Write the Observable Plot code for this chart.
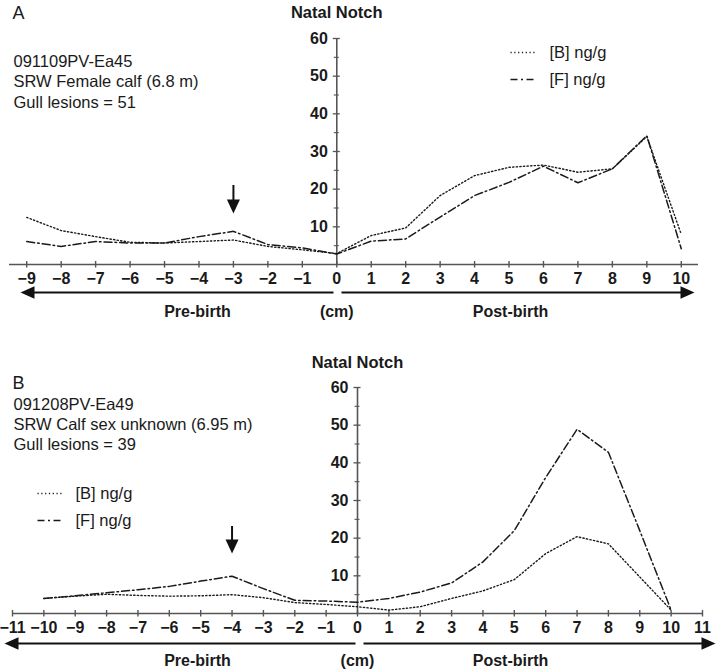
<!DOCTYPE html>
<html><head><meta charset="utf-8">
<script src="https://cdn.jsdelivr.net/npm/d3@7"></script>
<script src="https://cdn.jsdelivr.net/npm/@observablehq/plot@0.6"></script>
<style>
html,body{margin:0;padding:0;background:#fff;}
#fig{width:717px;height:670px;overflow:hidden;}
#fig svg{display:block;}
</style></head><body><div id="fig"></div>
<script>
// ---- data ----
const positionsA = [-9,-8,-7,-6,-5,-4,-3,-2,-1,0,1,2,3,4,5,6,7,8,9,10];
const bluberA   = [12.5,9.0,7.4,5.9,5.7,6.1,6.5,4.8,3.9,2.9,7.7,9.7,18.3,23.6,25.8,26.4,24.5,25.4,34.0,8.0];
const fluberA   = [6.1,4.8,6.1,5.7,5.7,7.4,8.8,5.3,4.4,2.8,6.2,6.8,12.6,18.3,21.8,26.1,21.7,25.4,34.2,4.2];
const xTicksA   = [-9,-8,-7,-6,-5,-4,-3,-2,-1,0,1,2,3,4,5,6,7,8,9,10];

const positionsB = [-10,-9,-8,-7,-6,-5,-4,-3,-2,-1,0,1,2,3,4,5,6,7,8,9,10];
const bluberB    = [4.0,4.6,5.1,4.8,4.6,4.7,5.0,4.2,2.9,2.4,1.8,0.9,1.8,4.0,6.0,9.0,15.9,20.4,18.5,9.7,0.9];
const fluberB    = [4.0,4.7,5.5,6.3,7.2,8.6,9.9,6.6,3.5,3.3,3.0,4.0,5.7,8.1,13.7,22.0,36.1,48.9,42.8,22.0,0.9];
const xTicksB    = [-11,-10,-9,-8,-7,-6,-5,-4,-3,-2,-1,0,1,2,3,4,5,6,7,8,9,10,11];

const yTicks      = [10,20,30,40,50,60];
const yMinorTicks = [5,15,25,35,45,55];
const seriesNames = ["[B] ng/g","[F] ng/g"];
const specimenA = ["091109PV-Ea45","SRW Female calf (6.8 m)","Gull lesions = 51"];
const specimenB = ["091208PV-Ea49","SRW Calf sex unknown (6.95 m)","Gull lesions = 39"];
const markerA = -3, markerB = -4;
const axisTitle = "Natal Notch";
const bottomLabels = ["Pre-birth","(cm)","Post-birth"];

// ---- drawing ----
const W = 717;
const FONT = "'Liberation Sans', Arial, Helvetica, sans-serif";
const INK = "#1a1a1a";
const AXIS = "#555";
const DOT_DASH = "1.3,2.3";
const DASH_DOT = "8,3,1.6,3";

function head(len, half) {
  return {draw(ctx) { ctx.moveTo(0, 0); ctx.lineTo(-len, -half); ctx.lineTo(-len, half); ctx.closePath(); }};
}
const fmt = d => d < 0 ? "\u2212" + (-d) : String(d);

function panel(c) {
  const sx = d3.scaleLinear(c.xDomain, [c.ml, W - c.mr]);
  const sy = d3.scaleLinear([0, 60], [c.H - c.mb, c.mt]);
  const X = px => sx.invert(px), Y = py => sy.invert(py);
  const x0 = sx(0), y0 = sy(0);
  const rows = c.positions.map((p, i) => ({p, b: c.b[i], f: c.f[i]}));
  const txt = {fill: INK, fontFamily: FONT};
  const hh = head(14, 6.3);
  const hv = head(14, 6.5);
  return Plot.plot({
    width: W, height: c.H,
    marginTop: c.mt, marginBottom: c.mb, marginLeft: c.ml, marginRight: c.mr,
    x: {domain: c.xDomain, axis: null},
    y: {domain: [0, 60], axis: null},
    style: {fontFamily: FONT, background: "white", overflow: "visible"},
    marks: [
      // x axis
      Plot.ruleY([0], {stroke: AXIS, strokeWidth: 1.6}),
      Plot.ruleX(c.xTicks, {x: d => d, y1: Y(y0 - 3), y2: Y(y0 + 3.5), stroke: AXIS, strokeWidth: 1.4}),
      Plot.text(c.xTicks, {x: d => d, y: 0, dy: 14, text: fmt, fontSize: 16, fontWeight: "bold", ...txt}),
      // y axis
      Plot.ruleX([0], {y1: 0, y2: 60, stroke: AXIS, strokeWidth: 1.6}),
      Plot.ruleY(yTicks, {y: d => d, x1: X(x0 - 3.5), x2: X(x0 + 3.5), stroke: AXIS, strokeWidth: 1.3}),
      Plot.ruleY(yMinorTicks, {y: d => d, x1: X(x0 - 2.5), x2: X(x0 + 2.5), stroke: AXIS, strokeWidth: 1.1}),
      Plot.text(yTicks, {x: 0, y: d => d, dx: -9, text: d => String(d), textAnchor: "end", fontSize: 16, fontWeight: "bold", ...txt}),
      Plot.text([axisTitle], {x: 0, y: Y(c.titleY), fontSize: 16.5, fontWeight: "bold", ...txt}),
      // series
      Plot.line(rows, {x: "p", y: "b", stroke: INK, strokeWidth: 1.4, strokeDasharray: DOT_DASH}),
      Plot.line(rows, {x: "p", y: "f", stroke: INK, strokeWidth: 1.5, strokeDasharray: DASH_DOT}),
      // marker arrow
      Plot.ruleX([c.marker], {x: d => d, y1: Y(c.mTop), y2: Y(c.mTip - 12), stroke: "#111", strokeWidth: 2}),
      Plot.dot([c.marker], {x: d => d, y: Y(c.mTip), symbol: hv, rotate: 90, fill: "#111", stroke: "none"}),
      // horizontal arrows
      Plot.link([0], {x1: X(c.lTip + 12), x2: X(c.lEnd), y1: Y(c.arrowY), y2: Y(c.arrowY), stroke: "#111", strokeWidth: 1.8}),
      Plot.link([0], {x1: X(c.rStart), x2: X(c.rTip - 12), y1: Y(c.arrowY), y2: Y(c.arrowY), stroke: "#111", strokeWidth: 1.8}),
      Plot.dot([0], {x: X(c.lTip), y: Y(c.arrowY), symbol: hh, rotate: 180, fill: "#111", stroke: "none"}),
      Plot.dot([0], {x: X(c.rTip), y: Y(c.arrowY), symbol: hh, rotate: 0, fill: "#111", stroke: "none"}),
      Plot.text(bottomLabels, {x: (d, i) => [X(197), 0, X(510)][i], y: Y(c.labelsY), text: d => d, fontSize: 16, fontWeight: "bold", ...txt}),
      // panel letter and specimen text
      Plot.text([c.letter], {x: X(12), y: Y(c.letterY), text: d => d, textAnchor: "start", fontSize: 18, ...txt}),
      Plot.text(c.specimen, {x: X(13), y: (d, i) => Y(c.specY[i]), text: d => d, textAnchor: "start", fontSize: 16.5, ...txt}),
      // legend
      Plot.link([seriesNames[0]], {x1: X(c.legX[0]), x2: X(c.legX[1]), y1: Y(c.legY[0]), y2: Y(c.legY[0]),
        stroke: INK, strokeWidth: 1.3, strokeDasharray: "1.2,2.6"}),
      Plot.link([seriesNames[1]], {x1: X(c.legX[0]), x2: X(c.legX[1]), y1: Y(c.legY[1]), y2: Y(c.legY[1]),
        stroke: INK, strokeWidth: 1.4, strokeDasharray: "7,3.5,2,3.5"}),
      Plot.text(seriesNames, {x: X(c.legX[2]), y: (d, i) => Y(c.legY[i]), text: d => d, textAnchor: "start", fontSize: 16.5, ...txt})
    ]
  });
}

const fig = document.getElementById("fig");
fig.append(panel({
  H: 349, mt: 38, mb: 85, ml: 9, mr: 19, xDomain: [-9.5, 10.5],
  positions: positionsA, b: bluberA, f: fluberA, xTicks: xTicksA,
  marker: markerA, mTop: 185, mTip: 213,
  arrowY: 292, lTip: 20, lEnd: 333, rStart: 341, rTip: 694, labelsY: 311,
  letter: "A", letterY: 13, specimen: specimenA, specY: [61, 81.5, 102], titleY: 12,
  legX: [510, 535, 549], legY: [52, 79]
}));
fig.append(panel({
  H: 321, mt: 38, mb: 57, ml: 12, mr: 15, xDomain: [-11, 11],
  positions: positionsB, b: bluberB, f: fluberB, xTicks: xTicksB,
  marker: markerB, mTop: 177, mTip: 204,
  arrowY: 294, lTip: 4, lEnd: 355, rStart: 363, rTip: 715, labelsY: 311,
  letter: "B", letterY: 34, specimen: specimenB, specY: [55, 75, 95], titleY: 13,
  legX: [37, 62, 75], legY: [144, 171]
}));
</script></body></html>
